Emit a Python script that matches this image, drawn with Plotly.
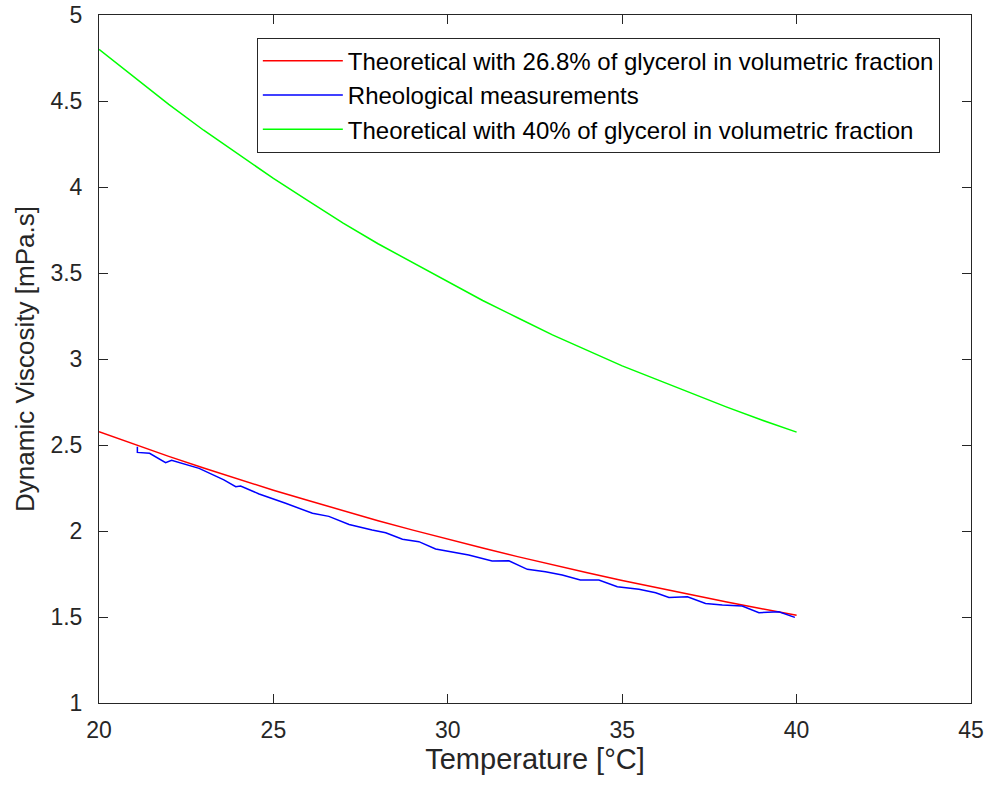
import plotly.graph_objects as go

# Temperature grid for theoretical curves [°C]
temp_theory = [20, 21, 22, 23, 24, 25, 26, 27, 28, 29, 30,
               31, 32, 33, 34, 35, 36, 37, 38, 39, 40]

# Theoretical viscosity, 26.8% glycerol (mPa.s)
visc_268 = [2.577, 2.504, 2.434, 2.366, 2.301, 2.237, 2.177, 2.117, 2.060, 2.005, 1.952,
            1.901, 1.851, 1.803, 1.757, 1.712, 1.669, 1.627, 1.587, 1.548, 1.510]

# Theoretical viscosity, 40% glycerol (mPa.s)
visc_40 = [4.80, 4.64, 4.48, 4.33, 4.19, 4.05, 3.92, 3.79, 3.67, 3.56, 3.45,
           3.34, 3.24, 3.14, 3.05, 2.96, 2.88, 2.80, 2.72, 2.645, 2.575]

# Rheological measurements
temp_meas = [21.10, 21.10, 21.45, 21.91, 22.08, 22.87, 23.58, 23.92, 24.06, 24.59,
             25.35, 26.12, 26.59, 27.17, 27.83, 28.22, 28.70, 29.17, 29.65, 30.60,
             31.27, 31.75, 32.28, 32.80, 33.28, 33.80, 34.33, 34.86, 35.48, 35.96,
             36.34, 36.87, 37.39, 37.87, 38.44, 38.92, 39.49, 39.95]
visc_meas = [2.490, 2.457, 2.452, 2.397, 2.411, 2.364, 2.297, 2.258, 2.262, 2.215,
             2.161, 2.103, 2.085, 2.038, 2.006, 1.990, 1.952, 1.938, 1.895, 1.860,
             1.826, 1.827, 1.777, 1.763, 1.744, 1.715, 1.715, 1.676, 1.661, 1.641,
             1.614, 1.618, 1.579, 1.570, 1.564, 1.525, 1.531, 1.498]

names = ["Theoretical with 26.8% of glycerol in volumetric fraction",
         "Rheological measurements",
         "Theoretical with 40% of glycerol in volumetric fraction"]

x_ticks = [20, 25, 30, 35, 40, 45]
y_ticks = [1, 1.5, 2, 2.5, 3, 3.5, 4, 4.5, 5]
y_tick_text = ["1", "1.5", "2", "2.5", "3", "3.5", "4", "4.5", "5"]

FONT = "Liberation Sans, Arial, sans-serif"
AX = "#262626"

fig = go.Figure()
fig.add_trace(go.Scatter(x=temp_theory, y=visc_268, mode="lines", name=names[0],
                         line=dict(color="#FF0000", width=1.5), legendgroup="a"))
fig.add_trace(go.Scatter(x=temp_meas, y=visc_meas, mode="lines", name=names[1],
                         line=dict(color="#0000FF", width=1.5), legendgroup="b"))
fig.add_trace(go.Scatter(x=temp_theory, y=visc_40, mode="lines", name=names[2],
                         line=dict(color="#00FF00", width=1.5), legendgroup="c"))

axis_common = dict(showgrid=False, zeroline=False, showline=True, linecolor=AX,
                   linewidth=1, mirror="ticks", ticks="inside", ticklen=9,
                   tickcolor=AX, tickwidth=1, automargin=False,
                   ticklabeloverflow="allow",
                   tickfont=dict(family=FONT, size=23, color=AX))

fig.update_layout(
    width=986, height=789,
    paper_bgcolor="white", plot_bgcolor="white",
    margin=dict(l=99, r=15, t=15, b=86),
    xaxis=dict(range=[20, 45], tickvals=x_ticks, ticklabelstandoff=6,
               title=dict(text="Temperature [°C]", font=dict(family=FONT, size=29, color=AX), standoff=7),
               **axis_common),
    yaxis=dict(range=[1, 5], tickvals=y_ticks, ticktext=y_tick_text, ticklabelstandoff=11,
               title=dict(text="Dynamic Viscosity [mPa.s]", font=dict(family=FONT, size=26, color=AX), standoff=8),
               **axis_common),
    legend=dict(x=0.181, y=0.967, xanchor="left", yanchor="top",
                bgcolor="white", bordercolor=AX, borderwidth=1,
                font=dict(family=FONT, size=24, color="black"),
                traceorder="grouped", tracegroupgap=0, itemwidth=80),
    showlegend=True,
)

# remove the browser's default 8px body margin so the figure fills the window exactly
fig.write_html("out.html",
               config={"displayModeBar": False},
               post_script="document.body.style.margin='0';document.body.style.overflow='hidden';")
